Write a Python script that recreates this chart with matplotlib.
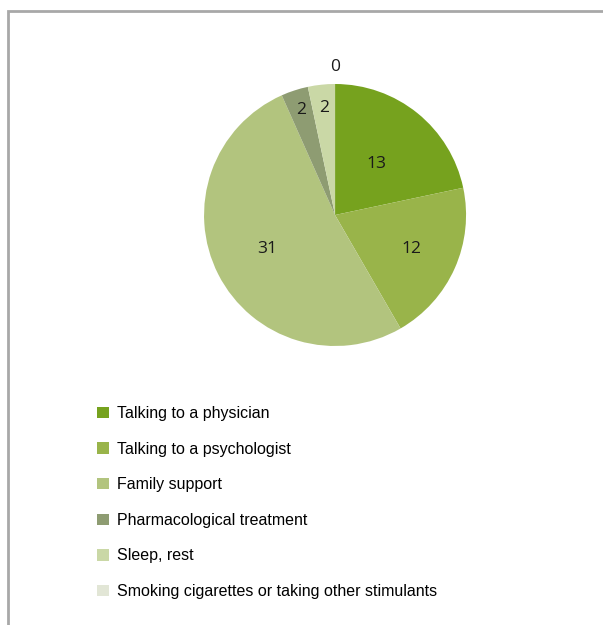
import matplotlib
matplotlib.use('Agg')
import matplotlib.pyplot as plt
from matplotlib.patches import Rectangle
import numpy as np

# 응답 데이터
categories = ['Talking to a physician', 'Talking to a psychologist', 'Family support',
              'Pharmacological treatment', 'Sleep, rest',
              'Smoking cigarettes or taking other stimulants']
counts = [13, 12, 31, 2, 2, 0]
colors = ['#76a21e', '#99b44a', '#b2c47e', '#8e9c72', '#cad8a6', '#e2e6d6']
label_dist = [0.5, 0.64, 0.58, 0.84, 0.82, 1.13]

fig = plt.figure(figsize=(6.03, 6.25), dpi=100)

# 바깥 테두리
fig.patches.append(Rectangle((8 / 603, -0.05), 1.1, 1 - 11 / 625 + 0.05,
                             transform=fig.transFigure, fill=False,
                             edgecolor='#a8a8a8', linewidth=2))

ax = fig.add_axes([0.5556 - 0.2172, 0.656 - 0.2096, 0.4345, 0.4192])
wedges, _ = ax.pie(counts, colors=colors, startangle=90, counterclock=False,
                   radius=1, wedgeprops={'linewidth': 0})
ax.set_xlim(-1, 1)
ax.set_ylim(-1, 1)
ax.set_aspect('equal')
ax.axis('off')

# 조각 라벨
for w, n, d in zip(wedges, counts, label_dist):
    ang = np.deg2rad((w.theta1 + w.theta2) / 2)
    ax.text(d * np.cos(ang), d * np.sin(ang), str(n), ha='center', va='center',
            fontsize=12.5, family='Open Sans', weight='medium',
            color='#1a1a1a', clip_on=False)

fig.legend(wedges, categories, loc='upper left', bbox_to_anchor=(97 / 603, 1 - 406 / 625),
           frameon=False, handlelength=0.72, handleheight=0.72,
           handletextpad=0.55, labelspacing=1.29, borderpad=0, borderaxespad=0,
           prop={'family': 'Liberation Sans', 'size': 11.5})

fig.savefig('out.png', dpi=100)
